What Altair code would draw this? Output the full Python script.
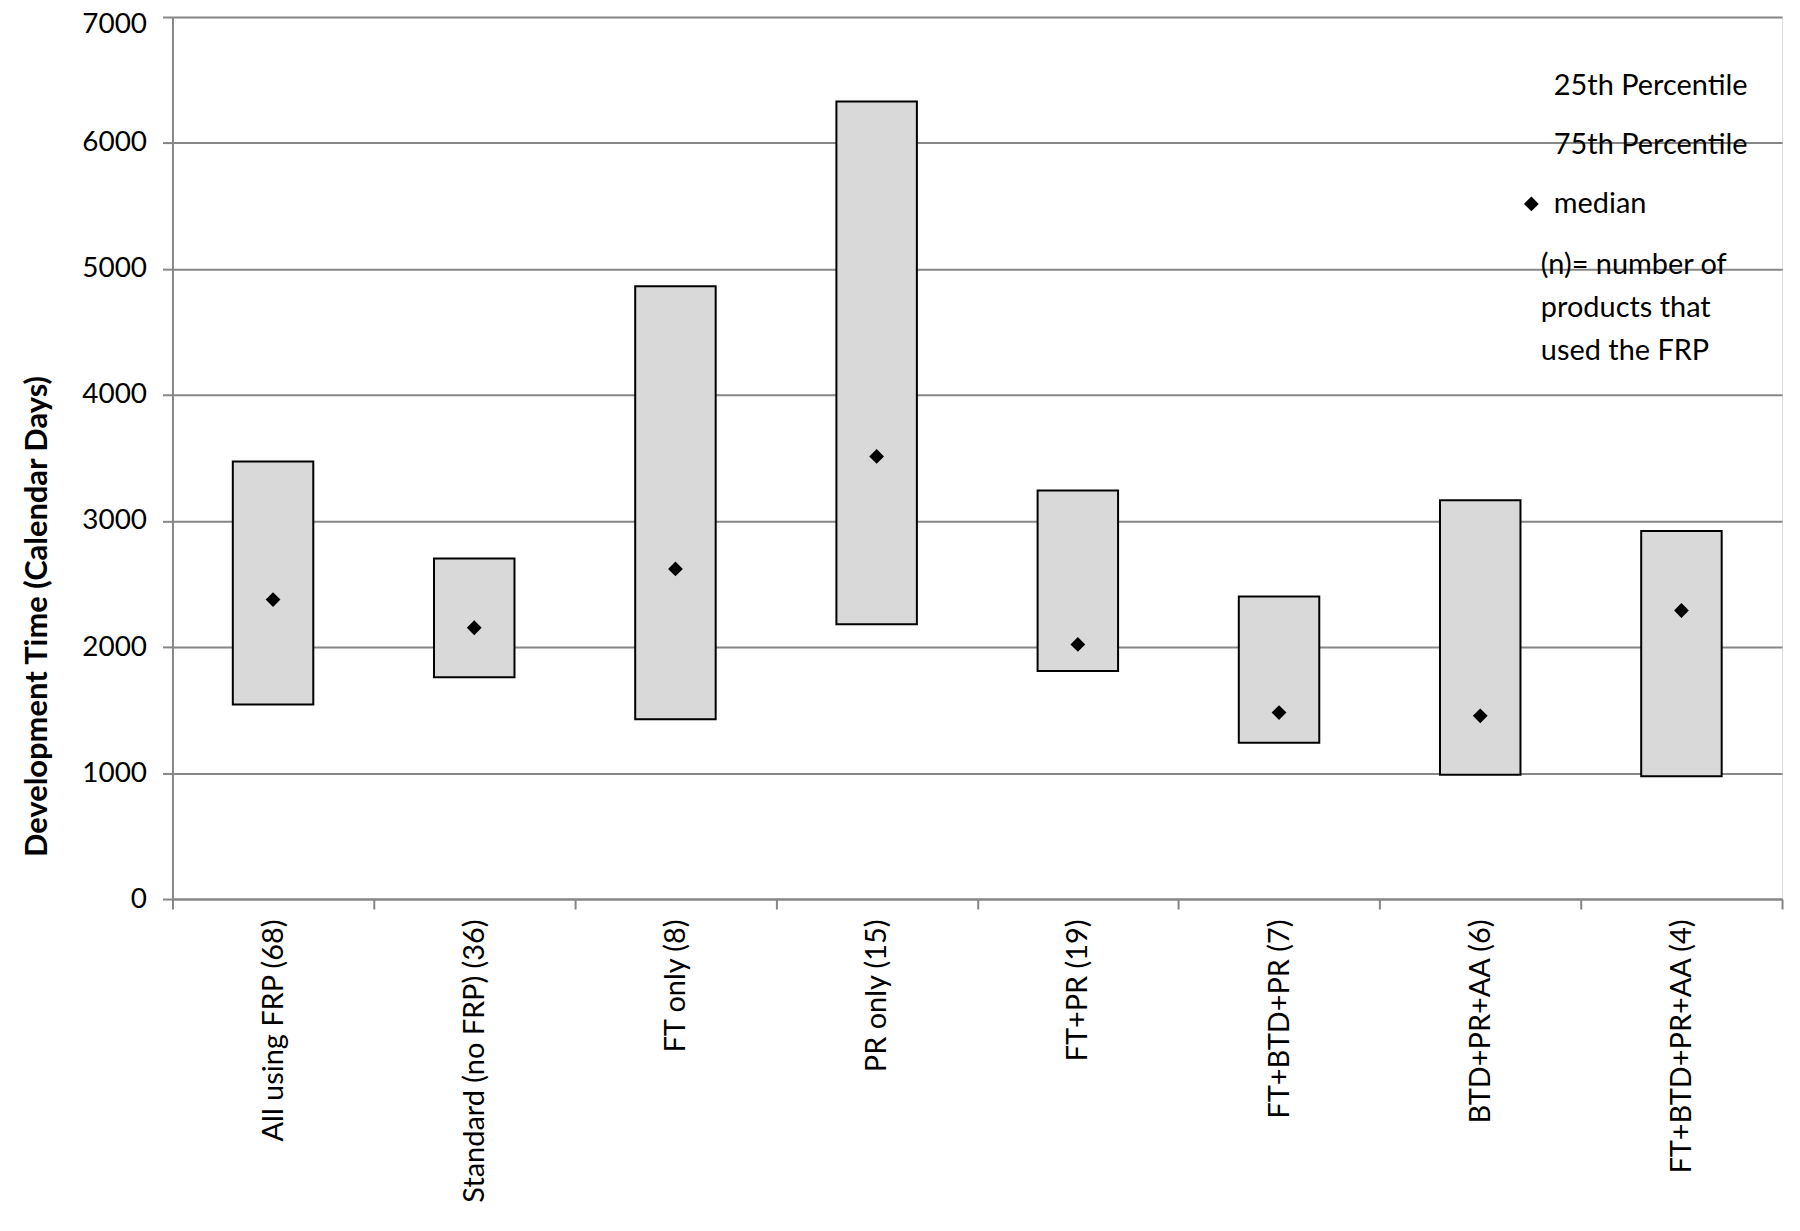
import altair as alt
import pandas as pd

categories = ["All using FRP (68)", "Standard (no FRP) (36)", "FT only (8)", "PR only (15)",
              "FT+PR (19)", "FT+BTD+PR (7)", "BTD+PR+AA (6)", "FT+BTD+PR+AA (4)"]
p25 = [1543, 1760, 1427, 2180, 1810, 1240, 987, 974]
p75 = [3473, 2703, 4863, 6330, 3243, 2401, 3164, 2921]
median = [2377, 2153, 2620, 3513, 2021, 1480, 1454, 2290]

legend_labels = ["25th Percentile", "75th Percentile", "median"]
note_lines = ["(n)= number of", "products that", "used the FRP"]
y_ticks = [0, 1000, 2000, 3000, 4000, 5000, 6000, 7000]

df = pd.DataFrame({"cat": categories, "p25": p25, "p75": p75, "median": median,
                   "series": ["median"] * len(categories)})

FONT = "Lato"
GRID = "#868686"

x_enc = alt.X("cat:N", sort=categories,
              scale=alt.Scale(paddingInner=0, paddingOuter=0),
              axis=alt.Axis(title=None, labelAngle=-90, labelFontSize=29, labelFont=FONT,
                            labelColor="#000000", tickBand="extent", tickSize=10,
                            tickColor=GRID, tickWidth=2, domainColor=GRID, domainWidth=2,
                            labelPadding=10, labelLimit=400))

y_scale = alt.Scale(domain=[0, 7000], nice=False)

bars = alt.Chart(df).mark_bar(fill="#d9d9d9", stroke="#000000", strokeWidth=2,
                              width=alt.RelativeBandSize(0.4)).encode(
    x=x_enc,
    y=alt.Y("p75:Q", scale=y_scale,
            axis=alt.Axis(values=y_ticks, format="d", title="Development Time (Calendar Days)",
                          titleFontSize=31, titleFont=FONT, titleFontWeight="bold",
                          titleColor="#000000", titleX=-135, titleY=601,
                          titleAlign="center", titleBaseline="middle", titleAngle=-90,
                          labelFontSize=28, labelFont=FONT, labelColor="#000000",
                          labelOffset={"condition": {"test": "datum.value == 7000", "value": 8},
                                       "value": 0},
                          labelPadding=16, tickSize=10, tickColor=GRID, tickWidth=2,
                          domainColor=GRID, domainWidth=2, gridColor=GRID,
                          gridWidth=2, grid=True)),
    y2="p25:Q",
)

points = alt.Chart(df).mark_point(shape="diamond", filled=True, size=220, strokeWidth=0,
                                  opacity=1).encode(
    x=alt.X("cat:N", sort=categories),
    y=alt.Y("median:Q", scale=y_scale),
    fill=alt.Fill("series:N",
                  scale=alt.Scale(domain=legend_labels,
                                  range=["transparent", "transparent", "#000000"]),
                  legend=alt.Legend(title=None, orient="none", legendX=1349, legendY=55,
                                    labelFontSize=29, labelFont=FONT, labelColor="#000000",
                                    labelLimit=400, symbolOpacity=1,
                                    symbolType="diamond", symbolSize=220,
                                    symbolStrokeWidth=0, rowPadding=29, labelOffset=8)),
)

note = alt.Chart(pd.DataFrame({"t": [0]})).mark_text(
    align="left", baseline="middle", fontSize=29, font=FONT, lineHeight=43, color="#000000"
).encode(x=alt.value(1373), y=alt.value(249), text=alt.value(note_lines))

chart = alt.layer(bars, points, note).properties(
    width=1615, height=885,
    autosize=alt.AutoSizeParams(type="none"),
    padding={"left": 165, "top": 7, "right": 10, "bottom": 320},
).configure_view(stroke=None).configure(background="#ffffff")

chart.save("out.html", embed_options={"renderer": "svg", "actions": False})
